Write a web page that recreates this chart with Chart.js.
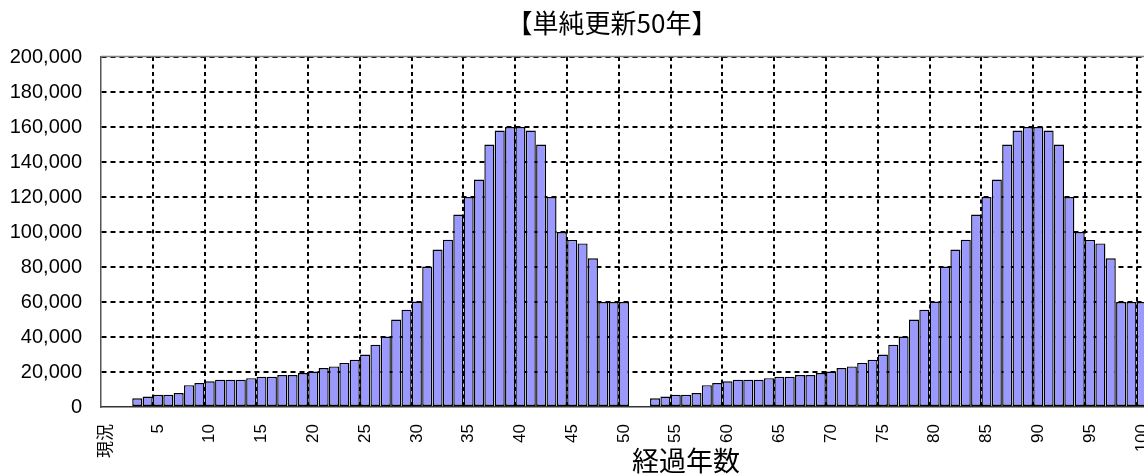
<!DOCTYPE html>
<html lang="ja">
<head>
<meta charset="utf-8">
<title>単純更新50年</title>
<script src="https://cdn.jsdelivr.net/npm/chart.js@4/dist/chart.umd.min.js"></script>
<style>
  html, body { margin: 0; padding: 0; background: #ffffff; }
  #wrap { width: 1144px; height: 475px; overflow: hidden; position: relative; }
  canvas { display: block; }
</style>
</head>
<body>
<div id="wrap"><canvas id="chart" width="1150" height="475"></canvas></div>
<script>
// 経過年数（現況, 1〜100年）
const categories = [
  '現況',
  '1','2','3','4','5','6','7','8','9','10',
  '11','12','13','14','15','16','17','18','19','20',
  '21','22','23','24','25','26','27','28','29','30',
  '31','32','33','34','35','36','37','38','39','40',
  '41','42','43','44','45','46','47','48','49','50',
  '51','52','53','54','55','56','57','58','59','60',
  '61','62','63','64','65','66','67','68','69','70',
  '71','72','73','74','75','76','77','78','79','80',
  '81','82','83','84','85','86','87','88','89','90',
  '91','92','93','94','95','96','97','98','99','100'
];

// 各年の更新量
const renewalAmounts = [
  null,
  null, null, 5000, 6000, 7000, 7000, 8000, 12500, 13700, 14700,
  15600, 15600, 15600, 16500, 17300, 17300, 18300, 18300, 19400, 20300,
  22300, 23200, 25200, 27000, 30000, 35600, 40300, 50000, 55600, 60300,
  80300, 90000, 95600, 110000, 120000, 130000, 150000, 158000, 160000, 160000,
  158000, 150000, 120000, 100000, 95500, 93500, 85000, 60000, 60000, 60000,
  null, null, 5000, 6000, 7000, 7000, 8000, 12500, 13700, 14700,
  15600, 15600, 15600, 16500, 17300, 17300, 18300, 18300, 19400, 20300,
  22300, 23200, 25200, 27000, 30000, 35600, 40300, 50000, 55600, 60300,
  80300, 90000, 95600, 110000, 120000, 130000, 150000, 158000, 160000, 160000,
  158000, 150000, 120000, 100000, 95500, 93500, 85000, 60000, 60000, 60000
];

// 縦軸目盛
const yTicks = [0, 20000, 40000, 60000, 80000, 100000, 120000, 140000, 160000, 180000, 200000];

const chartTitle = '【単純更新50年】';
const xAxisTitle = '経過年数';

const fontFamily = "'Liberation Sans', 'Noto Sans CJK JP', sans-serif";

// グラフタイトル・軸タイトル・プロットエリア上辺
const titlesPlugin = {
  id: 'titles',
  afterDraw(chart) {
    const { ctx, chartArea } = chart;
    ctx.save();
    ctx.strokeStyle = '#808080';
    ctx.lineWidth = 1.5;
    ctx.beginPath();
    ctx.moveTo(chartArea.left, chartArea.top - 0.5);
    ctx.lineTo(chartArea.right, chartArea.top - 0.5);
    ctx.stroke();

    ctx.fillStyle = '#000';
    ctx.textAlign = 'center';
    ctx.textBaseline = 'middle';
    ctx.font = "26px 'Noto Sans CJK JP', sans-serif";
    ctx.fillText(chartTitle, 612, 23);
    ctx.font = "27px 'Noto Sans CJK JP', sans-serif";
    ctx.fillText(xAxisTitle, 686, 461);
    ctx.restore();
  }
};

new Chart(document.getElementById('chart'), {
  type: 'bar',
  data: {
    labels: categories,
    datasets: [{
      data: renewalAmounts,
      backgroundColor: '#9999ff',
      borderColor: '#000000',
      borderWidth: 1.4,
      borderSkipped: false,
      categoryPercentage: 1,
      barPercentage: 0.97
    }]
  },
  options: {
    responsive: false,
    animation: false,
    devicePixelRatio: 1,
    layout: { padding: { left: 6, top: 57, right: 3, bottom: 0 } },
    plugins: {
      legend: { display: false },
      title: { display: false },
      tooltip: { enabled: false }
    },
    scales: {
      x: {
        offset: true,
        grid: {
          offset: true,
          drawTicks: false,
          lineWidth: 2,
          color: c => (c.index > 0 && c.index <= 100 && c.index % 5 === 0) ? '#000000' : 'rgba(0,0,0,0)'
        },
        border: { display: true, color: '#333333', width: 1.5, dash: [4, 3.5] },
        ticks: {
          autoSkip: false,
          minRotation: 90,
          maxRotation: 90,
          padding: 17,
          color: '#000',
          font: { family: fontFamily, size: 17 },
          callback: (v, i) => (i % 5 === 0 ? categories[i] : '')
        },
        afterFit(s) { s.height = 68; s.paddingLeft = 0; s.paddingRight = 0; }
      },
      y: {
        min: 0,
        max: 200000,
        afterBuildTicks(s) { s.ticks = yTicks.map(v => ({ value: v })); },
        grid: {
          drawTicks: false,
          lineWidth: 2,
          color: c => (c.tick && c.tick.value === 0) ? 'rgba(0,0,0,0)' : '#000000'
        },
        border: { display: true, color: '#555555', width: 1.5, dash: [5, 4] },
        ticks: {
          padding: 19,
          color: '#000',
          font: { family: fontFamily, size: 20 },
          callback: v => v.toLocaleString('en-US')
        },
        afterFit(s) { s.width = 95; s.paddingTop = 0; s.paddingBottom = 0; }
      }
    }
  },
  plugins: [titlesPlugin]
});
</script>
</body>
</html>
